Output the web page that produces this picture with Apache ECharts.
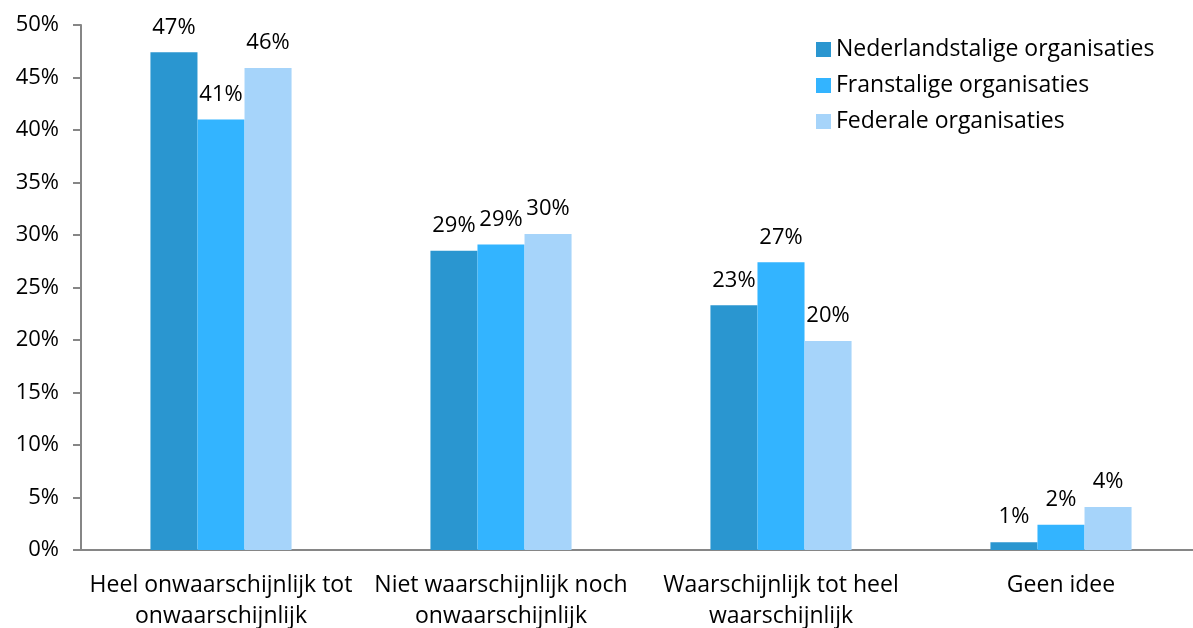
<!DOCTYPE html>
<html><head><meta charset="utf-8">
<script src="https://cdn.jsdelivr.net/npm/echarts@6/dist/echarts.min.js"></script>
<style>html,body{margin:0;padding:0;background:#fff;overflow:hidden}#c{width:1193px;height:628px}</style>
</head><body><div id="c"></div>
<script>
const categories = ["Heel onwaarschijnlijk tot\nonwaarschijnlijk", "Niet waarschijnlijk noch\nonwaarschijnlijk", "Waarschijnlijk tot heel\nwaarschijnlijk", "Geen idee"];
const seriesNames = ["Nederlandstalige organisaties", "Franstalige organisaties", "Federale organisaties"];
const nederlandstalig = [47.4, 28.5, 23.3, 0.75];
const franstalig = [41.0, 29.1, 27.4, 2.4];
const federaal = [45.9, 30.1, 19.9, 4.1];
const yTicks = [0, 50, 5];
const colors = ["#2A96D0", "#33B4FF", "#A6D4FA"];
const FONT = "Open Sans";

const chart = echarts.init(document.getElementById('c'), null, {renderer: 'canvas'});
const mk = (name, data, color) => ({
  name, type: 'bar', data, barGap: '0%', barCategoryGap: '49.6%',
  itemStyle: {color},
  label: {show: true, position: 'top', distance: 14, color: '#000', fontSize: 22, fontFamily: FONT,
    formatter: p => Math.round(p.value) + '%'}
});
chart.setOption({
  animation: false,
  textStyle: {fontFamily: FONT},
  grid: {left: 81, width: 1120, top: 25, bottom: 78, containLabel: false, outerBoundsMode: 'none'},
  legend: {
    orient: 'vertical', left: 811, top: 33, itemWidth: 15, itemHeight: 15, itemGap: 13,
    icon: 'rect', textStyle: {fontSize: 23, color: '#000', fontFamily: FONT},
    data: seriesNames
  },
  xAxis: {
    type: 'category', data: categories,
    axisLine: {lineStyle: {color: '#868686', width: 2}},
    axisTick: {show: false},
    axisLabel: {color: '#000', fontSize: 23, fontFamily: FONT, lineHeight: 31, margin: 20, interval: 0}
  },
  yAxis: {
    type: 'value', min: yTicks[0], max: yTicks[1], interval: yTicks[2],
    axisLine: {show: true, lineStyle: {color: '#868686', width: 2}},
    axisTick: {show: true, length: 8, lineStyle: {color: '#868686', width: 2}},
    splitLine: {show: false},
    axisLabel: {color: '#000', fontSize: 22, fontFamily: FONT, margin: 22, formatter: '{value}%'}
  },
  series: [mk(seriesNames[0], nederlandstalig, colors[0]), mk(seriesNames[1], franstalig, colors[1]), mk(seriesNames[2], federaal, colors[2])]
});
</script></body></html>
